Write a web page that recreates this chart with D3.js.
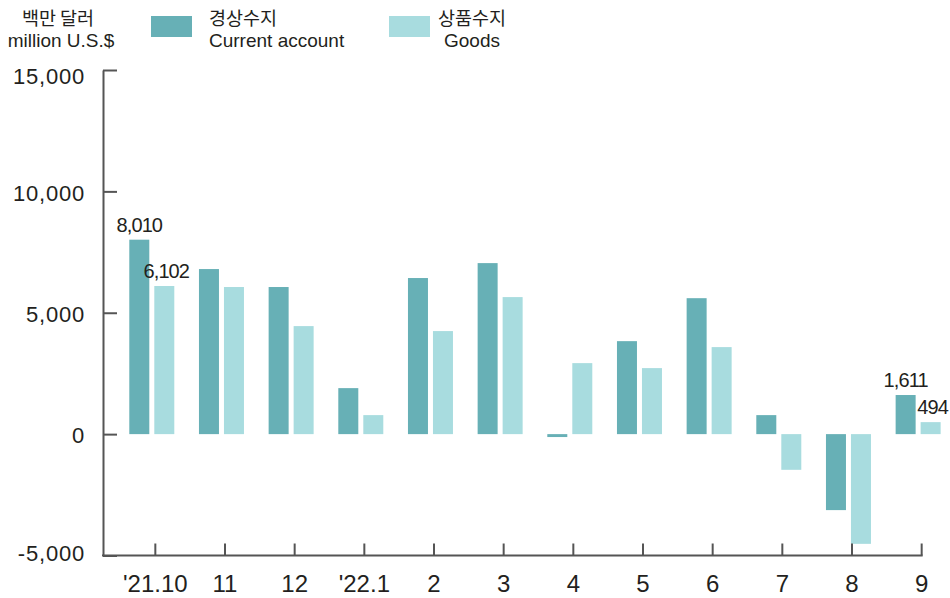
<!DOCTYPE html>
<html>
<head>
<meta charset="utf-8">
<script src="https://cdn.jsdelivr.net/npm/d3@7/dist/d3.min.js"></script>
<style>
  html, body { margin: 0; padding: 0; background: #fff; }
  svg { display: block; }
  text { font-family: "Liberation Sans", Arial, Helvetica, sans-serif; fill: #231f20; }
  .ko { font-family: "Noto Sans CJK KR", "Noto Sans", sans-serif; }
</style>
</head>
<body>
<svg id="chart" width="950" height="598"></svg>
<script>
// ---- data ----
const categories = ["'21.10", "11", "12", "'22.1", "2", "3", "4", "5", "6", "7", "8", "9"];
const currentAccount = [8010, 6800, 6060, 1895, 6430, 7045, -120, 3830, 5600, 783, -3130, 1611];
const goods = [6102, 6060, 4450, 783, 4245, 5645, 2925, 2720, 3585, -1470, -4520, 494];
const seriesKeys = ["ca", "goods"];
const seriesKo = ["경상수지", "상품수지"];
const seriesEn = ["Current account", "Goods"];
const yTicks = [-5000, 0, 5000, 10000, 15000];
const labelledCategories = ["'21.10", "9"];
const unitKo = "백만 달러";
const unitEn = "million U.S.$";

const colors = { ca: "#67b0b6", goods: "#a8dcdf" };
const axisColor = "#555555";

const svg = d3.select("#chart");
const axisX = 103, axisBottomY = 555.5, axisTopY = 70;

const rows = categories.map((c, i) => ({ cat: c, ca: currentAccount[i], goods: goods[i] }));

const y = d3.scaleLinear().domain([-5000, 15000]).range([axisBottomY, axisTopY]);
const x = d3.scaleBand().domain(categories).range([120.5, 956.5]).paddingInner(0).paddingOuter(0);
const xs = d3.scaleBand().domain(seriesKeys).range([8.8, 53.8]).paddingInner(0.2);

const locale = d3.formatLocale({ decimal: ".", thousands: ",", grouping: [3], currency: ["", ""], minus: "-" });
const fmt = locale.format(",");

// bars
const groups = svg.append("g").selectAll("g").data(rows).join("g")
  .attr("transform", d => `translate(${x(d.cat)},0)`);
groups.selectAll("rect").data(d => seriesKeys.map(k => ({ key: k, value: d[k], cat: d.cat })))
  .join("rect")
  .attr("x", d => xs(d.key))
  .attr("width", xs.bandwidth())
  .attr("y", d => y(Math.max(0, d.value)))
  .attr("height", d => Math.abs(y(d.value) - y(0)))
  .attr("fill", d => colors[d.key]);

// value labels
groups.filter(d => labelledCategories.includes(d.cat))
  .selectAll("text.val").data(d => seriesKeys.map(k => ({ key: k, value: d[k] })))
  .join("text").attr("class", "val")
  .attr("x", d => xs(d.key) + xs.bandwidth() / 2 + (d.key === "goods" ? 2 : 0))
  .attr("y", d => y(Math.max(0, d.value)) - 8)
  .attr("text-anchor", "middle")
  .style("font-size", "20px")
  .style("letter-spacing", "-0.9px")
  .text(d => fmt(d.value));

// y axis
const yAxis = d3.axisLeft(y).tickValues(yTicks).tickSizeInner(-14).tickSizeOuter(0)
  .tickPadding(18).tickFormat(fmt);
const gy = svg.append("g").attr("transform", `translate(${axisX},0)`).call(yAxis);
gy.select(".domain").attr("stroke", axisColor).attr("stroke-width", 2);
gy.selectAll(".tick line").attr("stroke", axisColor).attr("stroke-width", 2);
gy.selectAll(".tick text").style("font-size", "22px").style("letter-spacing", "0.8px")
  .attr("fill", "#231f20").attr("font-family", null)
  .attr("dy", d => d === 15000 ? "0.62em" : (d === -5000 ? "0.22em" : "0.4em"));

// x axis
const xAxis = d3.axisBottom(x).tickSizeInner(-12).tickSizeOuter(0).tickPadding(19);
const gx = svg.append("g").attr("transform", `translate(0,${axisBottomY})`).call(xAxis);
gx.select(".domain").remove();
gx.selectAll(".tick line").attr("stroke", axisColor).attr("stroke-width", 2);
gx.selectAll(".tick text").style("font-size", "24px").attr("fill", "#231f20").attr("font-family", null);
gx.append("line")
  .attr("x1", axisX - 1).attr("x2", x(categories[categories.length - 1]) + x.bandwidth() / 2 + 1)
  .attr("y1", 0).attr("y2", 0)
  .attr("stroke", axisColor).attr("stroke-width", 2);

// unit label
svg.append("text").attr("class", "ko").attr("x", 58).attr("y", 25)
  .attr("text-anchor", "middle").style("font-size", "18.5px").text(unitKo);
svg.append("text").attr("x", 61).attr("y", 46.5)
  .attr("text-anchor", "middle").style("font-size", "19px").text(unitEn);

// legend
const legendX = [151, 389];
const legendTextX = [209, 438];
const legendEnX = [209, 444];
seriesKeys.forEach((k, i) => {
  svg.append("rect").attr("x", legendX[i]).attr("y", 16).attr("width", 41).attr("height", 21)
    .attr("fill", colors[k]);
  svg.append("text").attr("class", "ko").attr("x", legendTextX[i]).attr("y", 25)
    .style("font-size", "18.5px").text(seriesKo[i]);
  svg.append("text").attr("x", legendEnX[i]).attr("y", 46.5)
    .style("font-size", "19px").text(seriesEn[i]);
});
</script>
</body>
</html>
